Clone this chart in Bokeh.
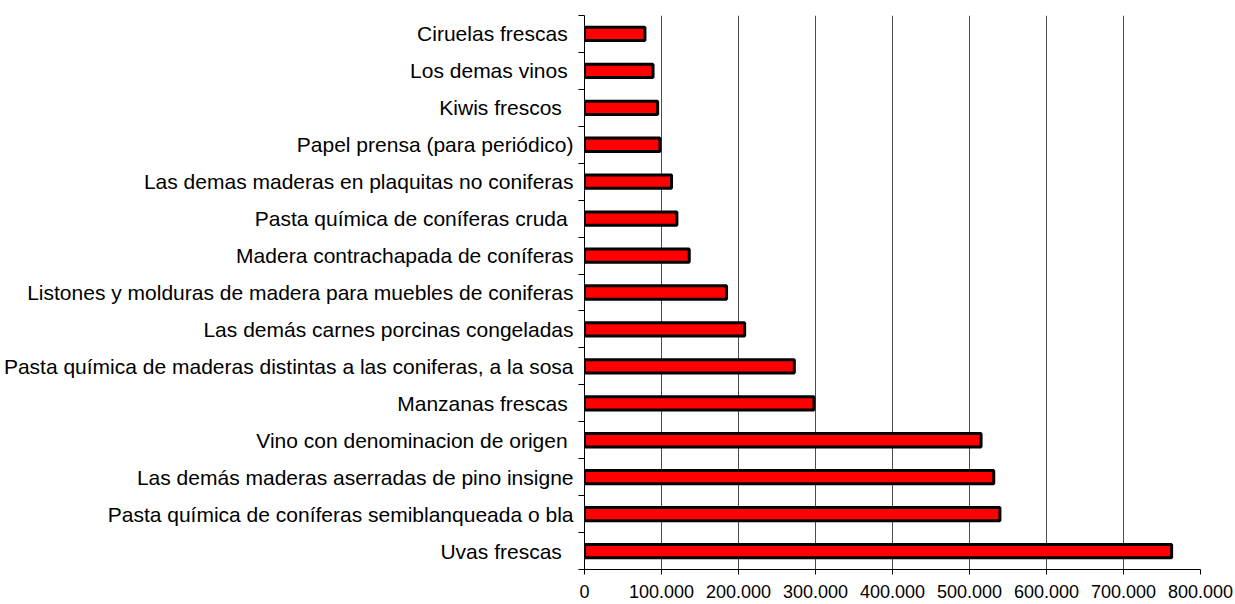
from bokeh.plotting import figure
from bokeh.models import Range1d, FixedTicker
from bokeh.embed import file_html
from bokeh.resources import INLINE

NB = "\u00a0"

# Categories, top to bottom (trailing spaces as in the original labels)
categories = [
    "Ciruelas frescas" + NB,
    "Los demas vinos" + NB,
    "Kiwis frescos" + NB + NB,
    "Papel prensa (para periódico)",
    "Las demas maderas en plaquitas no coniferas",
    "Pasta química de coníferas cruda" + NB,
    "Madera contrachapada de coníferas",
    "Listones y molduras de madera para muebles de coniferas",
    "Las demás carnes porcinas congeladas",
    "Pasta química de maderas distintas a las coniferas, a la sosa",
    "Manzanas frescas" + NB,
    "Vino con denominacion de origen" + NB,
    "Las demás maderas aserradas de pino insigne",
    "Pasta química de coníferas semiblanqueada o bla",
    "Uvas frescas" + NB + NB,
]
values = [
    78500, 89000, 95000, 98000, 113000, 120000, 136000, 184500,
    208000, 272500, 298000, 515000, 531500, 539500, 762500,
]

x_ticks = [0, 100000, 200000, 300000, 400000, 500000, 600000, 700000, 800000]
x_tick_labels = ["0", "100.000", "200.000", "300.000", "400.000",
                 "500.000", "600.000", "700.000", "800.000"]

n = len(categories)
ys = [n - i - 0.5 for i in range(n)]

FONT = "Liberation Sans"

p = figure(
    width=1235, height=604,
    output_backend="svg", toolbar_location=None,
    x_range=Range1d(0, 800000), y_range=Range1d(0, n),
    min_border_left=583, min_border_top=15,
    min_border_right=35, min_border_bottom=35,
)
p.outline_line_color = None
p.background_fill_color = "white"
p.border_fill_color = "white"

p.hbar(y=ys, right=values, left=0, height=0.36,
       fill_color="#ff0000", line_color="#000000", line_width=3)

# x axis
p.xaxis.ticker = FixedTicker(ticks=x_ticks)
p.xaxis.major_label_overrides = dict(zip(x_ticks, x_tick_labels))
p.xaxis.major_tick_out = 5
p.xaxis.major_tick_in = 0
p.xaxis.minor_tick_line_color = None
p.xaxis.axis_line_color = "black"
p.xaxis.major_tick_line_color = "black"
p.xaxis.major_label_text_font = FONT
p.xaxis.major_label_text_font_size = "18px"
p.xaxis.major_label_text_color = "black"
p.xaxis.major_label_standoff = 10

# y axis: labels at centres, ticks at category boundaries
p.yaxis.ticker = FixedTicker(ticks=ys, minor_ticks=list(range(n + 1)))
p.yaxis.major_label_overrides = dict(zip(ys, categories))
p.yaxis.major_tick_out = 0
p.yaxis.major_tick_in = 0
p.yaxis.major_tick_line_color = None
p.yaxis.minor_tick_out = 6
p.yaxis.minor_tick_in = 0
p.yaxis.minor_tick_line_color = "black"
p.yaxis.axis_line_color = "black"
p.yaxis.major_label_text_font = FONT
p.yaxis.major_label_text_font_size = "21px"
p.yaxis.major_label_text_color = "black"
p.yaxis.major_label_standoff = 5

# grid
p.xgrid.ticker = FixedTicker(ticks=x_ticks[1:])
p.xgrid.grid_line_color = "#4d4d4d"
p.xgrid.grid_line_width = 1
p.ygrid.grid_line_color = None

open("out.html", "w").write(file_html(p, INLINE))
